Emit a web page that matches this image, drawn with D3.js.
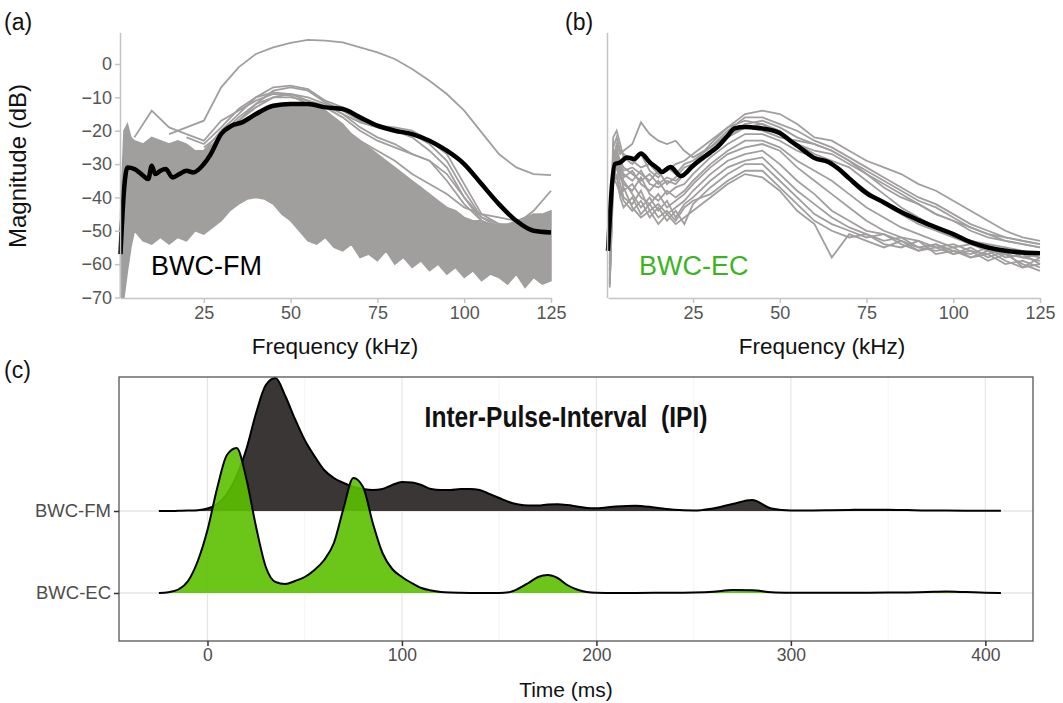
<!DOCTYPE html>
<html>
<head>
<meta charset="utf-8">
<script src="https://cdn.jsdelivr.net/npm/d3@7"></script>
<style>
body { margin: 0; background: #fff; }
text { font-family: "Liberation Sans", Arial, sans-serif; }
</style>
</head>
<body>
<svg id="fig" width="1063" height="703"></svg>
<script>
// ---- spectra, panel (a) BWC-FM ----
const freqA = [1, 2, 3, 4, 5, 7.5, 10, 12.5, 15, 17.5, 20, 22.5, 25, 27.5, 30, 32.5, 35, 37.5, 40, 42.5, 45, 47.5, 50,
  52.5, 55, 57.5, 60, 62.5, 65, 67.5, 70, 72.5, 75, 77.5, 80, 82.5, 85, 87.5, 90, 92.5, 95, 97.5, 100,
  102.5, 105, 107.5, 110, 112.5, 115, 117.5, 120, 122.5, 125];
// upper / lower edge of the dense bundle of grey spectra
const bandHighA = [-45, -20, -18, -22, -23, -24, -22, -23, -24, -23, -24, -26, -26, -24, -21, -19, -18, -16, -15, -14, -13, -12.5, -12,
  -12, -12.5, -13, -14, -16, -18, -21, -23, -25, -27, -29, -31, -33, -35, -37, -39, -41, -43, -44, -46,
  -47, -47, -48, -48, -48, -47, -46, -45, -45, -44];
const bandLowA = [-70, -70, -62, -55, -50, -53, -54, -52, -54, -52, -53, -50, -51, -49, -47, -44, -42, -40.5, -40, -40.5, -42, -45, -47,
  -50, -53, -54, -52, -55, -56, -54, -58, -57, -59, -56, -60, -58, -61, -59, -62, -60, -63, -61, -64,
  -62, -65, -63, -64, -66, -63, -67, -64, -66, -65];
// single spectra standing out of the bundle
const freqOut = [5, 10, 15, 20, 25, 30, 35, 40, 45, 50, 55, 60, 65, 70, 75, 80, 85, 90, 95, 100, 105, 110, 115, 120, 125];
const outliersA = [
  [null, null, -21, -19, -17, -7, -1, 3, 5, 6.3, 7.2, 7, 6.5, 5, 3.5, 1.5, -1.5, -5, -9, -14, -20.5, -27, -31, -33, -33.3],
  [null, null, null, null, -26, -20, -15, -10, -7, -6.5, -7.5, -11, -13, -16, -18.5, -19, -20, -23, -27, -36, -45, -48, -49, -48, -47],
  [null, null, null, null, -27, -22, -17, -12, -8, -7, -8, -11.5, -14, -17, -19, -20, -22, -26, -31, -40, -47, -49, -48, -44, -38],
  [null, null, null, -22, -24, -19, -13.5, -10, -8.5, -9, -11, -13, -16, -20, -23, -25, -27, -29, -35, -42, -47, -50, -50, -49, -48],
  [-22, -14, -19, -21, -23, -17, -14, -11, -9, -9.5, -12, -14, -19, -23, -26, -29, -33, -36, -39, -43, -45, -46, -47, -46, -45],
  [null, null, null, null, -25, -21, -16, -12, -10, -10, -11, -12.5, -15, -17.5, -19, -19.5, -21, -24, -29, -38, -46, -49, -49, -47, -45],
  [null, null, null, null, -26, -22, -17, -13, -10, -9, -10, -12, -15, -19, -22, -24, -27, -29, -33, -40, -46, -48, -49, -48, -46]
];
const meanFreqA = [1, 2, 3, 5, 7, 9, 10, 11, 12.5, 14, 16, 18, 20, 22, 25, 27, 30, 33, 36, 40, 45, 50, 55, 60, 65, 70, 75, 80, 85,
  90, 95, 100, 105, 110, 115, 120, 125];
const meanA = [-57, -38, -31, -31.5, -33, -34.5, -30.5, -33, -32, -31.5, -34, -33, -32, -32.5, -30, -27, -21, -18.5, -17.5, -15, -12.5,
  -12, -12, -13, -13.5, -16, -18.5, -20, -21, -23, -26, -30, -36, -42, -47, -50, -50.5];

// ---- spectra, panel (b) BWC-EC ----
const freqB = [1, 2, 3, 4, 5, 7.5, 10, 12.5, 15, 17.5, 20, 22.5, 25, 30, 35, 40, 45, 50, 55, 60, 65, 70, 75, 80, 85, 90, 95, 100,
  105, 110, 115, 120, 125];
const linesB = [
  [-60, -25, -22, -26, -27, -29, -31, -30, -33, -32, -30, -29, -27, -23, -19, -15, -14, -15, -18, -22, -23, -26, -29, -31, -33, -36, -38, -41, -44, -47, -50, -52, -53],
  [-62, -22, -20, -24, -28, -30, -27, -32, -34, -31, -33, -30, -29, -25, -20, -16, -16, -18, -20, -23, -25, -28, -31, -34, -37, -40, -42, -45, -48, -50, -52, -53, -54],
  [-58, -28, -24, -27, -26, -24, -17.5, -21, -23, -24, -23, -26, -28, -25, -21, -18, -17, -19, -22, -24, -26, -29, -33, -37, -40, -42, -45, -47, -49, -51, -53, -54, -55],
  [-65, -30, -26, -29, -31, -33, -35, -33, -36, -34, -35, -33, -31, -27, -22, -19, -18, -20, -24, -27, -29, -31, -35, -39, -43, -46, -49, -51, -53, -54, -55, -56, -57],
  [-55, -32, -28, -31, -34, -32, -36, -38, -35, -39, -37, -36, -33, -28, -24, -21, -21, -23, -26, -28, -30, -34, -38, -42, -45, -48, -50, -52, -54, -55, -56, -57, -58],
  [-66, -35, -30, -34, -36, -38, -34, -39, -41, -38, -40, -38, -35, -30, -26, -23, -23, -25, -29, -32, -35, -39, -43, -46, -49, -51, -53, -55, -54, -56, -57, -58, -57],
  [-64, -29, -25, -32, -38, -36, -40, -42, -39, -43, -41, -39, -36, -31, -27, -25, -24, -26, -31, -35, -39, -43, -47, -50, -52, -53, -55, -54, -56, -57, -55, -58, -59],
  [-60, -33, -31, -36, -40, -42, -38, -44, -42, -45, -43, -41, -38, -33, -29, -27, -26, -30, -35, -39, -44, -47, -50, -51, -53, -55, -54, -56, -57, -55, -58, -57, -60],
  [-66, -27, -29, -33, -35, -39, -43, -40, -44, -41, -46, -42, -40, -35, -31, -29, -28, -33, -38, -42, -46, -49, -51, -53, -52, -55, -56, -55, -58, -56, -59, -61, -58],
  [-63, -31, -34, -38, -41, -44, -41, -46, -43, -47, -44, -48, -42, -37, -33, -30, -30, -35, -40, -45, -48, -50, -52, -51, -54, -56, -55, -57, -56, -59, -57, -60, -62],
  [-67, -36, -33, -40, -43, -40, -45, -42, -46, -44, -47, -43, -41, -39, -35, -32, -32, -37, -42, -47, -50, -52, -51, -54, -55, -53, -57, -56, -58, -57, -60, -59, -61],
  [-65, -34, -36, -39, -37, -43, -46, -44, -48, -45, -48, -46, -44, -40, -36, -33, -34, -38, -44, -48, -58, -51, -53, -55, -53, -56, -54, -57, -55, -58, -56, -61, -60],
  [-59, -26, -27, -30, -32, -31, -33, -35, -32, -36, -34, -31, -30, -24, -19, -17, -18, -21, -24, -26, -27, -30, -33, -36, -39, -42, -45, -47, -50, -52, -53, -54, -55],
  [-62, -30, -27, -31, -33, -35, -32, -36, -37, -35, -36, -33, -31, -26, -21, -19, -20, -22, -23, -24, -26, -29, -32, -35, -38, -41, -43, -46, -49, -51, -52, -53, -54]
];
const meanFreqB = [0.5, 2.5, 4, 6, 8, 10, 12.5, 15, 16, 18.5, 21.5, 25, 27, 30, 32, 35, 37, 40, 42, 45, 50, 53, 56, 60, 64, 67, 70,
  75, 80, 85, 90, 95, 100, 105, 110, 115, 120, 125];
const meanB = [-56, -30, -29.5, -28, -28.5, -26.8, -29.4, -31.5, -32.4, -30.9, -33.6, -30.5, -28.8, -26.5, -24.9, -21.5, -19.3, -18.9,
  -19, -19.3, -20.7, -23, -25.2, -28.2, -29.4, -31.5, -34.3, -38.7, -41.5, -44.4, -46.8, -49, -51, -53.4, -55, -56, -56.5, -56.7];

const freqTicks = [25, 50, 75, 100, 125];
const dbTicks = [0, -10, -20, -30, -40, -50, -60, -70];

// ---- panel (c) inter-pulse-interval densities ----
const groups = ["BWC-EC", "BWC-FM"];
const ipiTime = [-25, -20, -15, -10, -5, 0, 5, 10, 15, 20, 25, 30, 35, 40, 45, 50, 55, 60, 65, 70, 75, 80, 85, 90, 95, 100,
  105, 110, 115, 120, 125, 130, 135, 140, 145, 150, 155, 160, 165, 170, 175, 180, 185, 190, 195, 200,
  210, 220, 230, 240, 250, 260, 270, 280, 290, 300, 310, 320, 330, 340, 350, 360, 370, 380, 390, 400, 408];
const ipiFM = [0, 0, 0.2, 0.4, 0.8, 2.5, 7, 17, 35, 62, 98, 126, 133, 115, 92, 71, 55, 41, 33, 28, 24, 22, 21, 22, 26, 29,
  28.5, 26, 22, 21, 21, 22, 22, 21, 17, 13, 9, 6.5, 5.5, 5.5, 6.5, 6.8, 6, 4.5, 3, 2.7,
  4.5, 5.3, 3.5, 1.2, 0.5, 2.5, 7, 11, 2.5, 0.6, 0.6, 0.8, 1.1, 1.3, 1.3, 0.9, 0.5, 0.4, 0.3, 0.3, 0.2];
const ipiEC = [0, 0.8, 3.5, 12, 32, 63, 105, 138, 145, 114, 66, 26, 11, 9, 12, 16, 23, 33, 50, 85, 115, 106, 70, 40, 24, 16,
  10, 5, 2.5, 1, 0.4, 0.2, 0.1, 0.1, 0.1, 0.1, 0.8, 4.5, 10, 16, 18, 15, 8, 3.5, 1, 0.3,
  0.1, 0.1, 0.2, 0.3, 0.5, 1.2, 3, 2.8, 0.8, 0.3, 0.2, 0.2, 0.3, 0.3, 0.4, 0.6, 1, 1.4, 0.9, 0.3, 0.1];
const timeTicks = [0, 100, 200, 300, 400];
const timeGrid = [0, 50, 100, 150, 200, 250, 300, 350, 400];

const grey = "#a19e9e";
const svg = d3.select("#fig");

function styleAxis(g, col) {
  g.select(".domain").attr("stroke", col).attr("stroke-width", 1.5);
  g.selectAll(".tick line").attr("stroke", col).attr("stroke-width", 1.5);
  g.selectAll(".tick text").attr("fill", "#555").attr("font-size", 18)
    .attr("font-family", "'Liberation Sans', Arial, sans-serif");
}

// ===== panel (a) =====
const xA = d3.scaleLinear().domain([1, 125]).range([120.5, 551]);
const yA = d3.scaleLinear().domain([-70, 9.5]).range([297.5, 32.3]);

const gA = svg.append("g");
gA.append("path")
  .datum(freqA.map((f, i) => [f, bandLowA[i], bandHighA[i]]))
  .attr("d", d3.area().x(d => xA(d[0])).y0(d => yA(d[1])).y1(d => yA(d[2])))
  .attr("fill", grey).attr("stroke", grey).attr("stroke-width", 1.5);

const lineOut = d3.line().defined(d => d[1] != null).x(d => xA(d[0])).y(d => yA(d[1]));
gA.selectAll(".outA")
  .data(outliersA)
  .enter()
  .append("path")
  .attr("d", vals => lineOut(freqOut.map((f, i) => [f, vals[i]])))
  .attr("fill", "none").attr("stroke", grey).attr("stroke-width", 1.8);

gA.append("path")
  .datum(meanFreqA.map((f, i) => [f, meanA[i]]))
  .attr("d", d3.line().x(d => xA(d[0])).y(d => yA(d[1])).curve(d3.curveMonotoneX))
  .attr("fill", "none").attr("stroke", "#000").attr("stroke-width", 4.5).attr("stroke-linejoin", "round");

gA.append("g")
  .attr("transform", "translate(120,0)")
  .call(d3.axisLeft(yA).tickValues(dbTicks).tickSize(5).tickSizeOuter(0).tickFormat(d3.format("d")))
  .call(g => styleAxis(g, "#c4c4c4"));
gA.append("g")
  .attr("transform", "translate(0,298)")
  .call(d3.axisBottom(xA).tickValues(freqTicks).tickSize(5).tickSizeOuter(0))
  .call(g => styleAxis(g, "#c4c4c4"));

gA.append("text")
  .attr("transform", "translate(26,166) rotate(-90)")
  .attr("text-anchor", "middle").attr("font-size", 24).attr("fill", "#111")
  .text("Magnitude (dB)");
gA.append("text")
  .attr("x", 335).attr("y", 354).attr("text-anchor", "middle")
  .attr("font-size", 22.5).attr("fill", "#111").text("Frequency (kHz)");
gA.append("text")
  .attr("x", 151).attr("y", 275).attr("font-size", 27).attr("fill", "#000").text("BWC-FM");

// ===== panel (b) =====
const xB = d3.scaleLinear().domain([0.5, 125]).range([608, 1040]);
const yB = d3.scaleLinear().domain([-70, 9.5]).range([297.5, 32.3]);

const gB = svg.append("g");
const lineB = d3.line().x(d => xB(d[0])).y(d => yB(d[1]));
gB.selectAll(".lineB")
  .data(linesB)
  .enter()
  .append("path")
  .attr("d", vals => lineB(freqB.map((f, i) => [f, vals[i]])))
  .attr("fill", "none").attr("stroke", grey).attr("stroke-width", 1.8);

gB.append("path")
  .datum(meanFreqB.map((f, i) => [f, meanB[i]]))
  .attr("d", d3.line().x(d => xB(d[0])).y(d => yB(d[1])).curve(d3.curveMonotoneX))
  .attr("fill", "none").attr("stroke", "#000").attr("stroke-width", 4.5).attr("stroke-linejoin", "round");

gB.append("g")
  .attr("transform", "translate(607,0)")
  .call(d3.axisLeft(yB).tickValues([]).tickSizeOuter(0))
  .call(g => styleAxis(g, "#c4c4c4"));
gB.append("g")
  .attr("transform", "translate(0,298)")
  .call(d3.axisBottom(xB).tickValues(freqTicks).tickSize(5).tickSizeOuter(0))
  .call(g => styleAxis(g, "#c4c4c4"));

gB.append("text")
  .attr("x", 822).attr("y", 354).attr("text-anchor", "middle")
  .attr("font-size", 22.5).attr("fill", "#111").text("Frequency (kHz)");
gB.append("text")
  .attr("x", 639).attr("y", 275).attr("font-size", 27).attr("fill", "#3bb51e").text("BWC-EC");

// ===== panel (c) =====
const xC = d3.scaleLinear().domain([-45.5, 424.5]).range([119, 1033]);
const yC = d3.scalePoint().domain(groups).range([593, 511]);
const hC = d3.scaleLinear().domain([0, 150]).range([0, 150]);

const gC = svg.append("g");
gC.selectAll(".vgrid")
  .data(timeGrid)
  .enter()
  .append("line")
  .attr("x1", d => xC(d)).attr("x2", d => xC(d))
  .attr("y1", 377).attr("y2", 641)
  .attr("stroke", d => d % 100 === 0 ? "#e6e6e6" : "#f2f2f2")
  .attr("stroke-width", d => d % 100 === 0 ? 1.2 : 0.8);
gC.selectAll(".hgrid")
  .data(groups)
  .enter()
  .append("line")
  .attr("x1", 119).attr("x2", 1033)
  .attr("y1", d => yC(d)).attr("y2", d => yC(d))
  .attr("stroke", "#e6e6e6").attr("stroke-width", 1.5);

function ridge(name, vals, fill, opacity) {
  const base = yC(name);
  const pts = ipiTime.map((t, i) => [t, vals[i]]);
  gC.append("path")
    .datum(pts)
    .attr("d", d3.area().x(d => xC(d[0])).y0(base).y1(d => base - hC(d[1])).curve(d3.curveMonotoneX))
    .attr("fill", fill).attr("fill-opacity", opacity);
  gC.append("path")
    .datum(pts)
    .attr("d", d3.line().x(d => xC(d[0])).y(d => base - hC(d[1])).curve(d3.curveMonotoneX))
    .attr("fill", "none").attr("stroke", "#000").attr("stroke-width", 2);
}
ridge("BWC-FM", ipiFM, "#3a3636", 1);
ridge("BWC-EC", ipiEC, "#5cbf00", 0.9);

gC.append("rect")
  .attr("x", 119).attr("y", 377).attr("width", 914).attr("height", 264)
  .attr("fill", "none").attr("stroke", "#555").attr("stroke-width", 1.3);

gC.append("g")
  .attr("transform", "translate(119,0)")
  .call(d3.axisLeft(yC).tickSize(5))
  .call(g => g.select(".domain").remove())
  .call(g => g.selectAll(".tick line").attr("stroke", "#333").attr("stroke-width", 1.5))
  .call(g => g.selectAll(".tick text").attr("fill", "#4d4d4d").attr("font-size", 18.5)
    .attr("font-family", "'Liberation Sans', Arial, sans-serif"));
gC.append("g")
  .attr("transform", "translate(0,641)")
  .call(d3.axisBottom(xC).tickValues(timeTicks).tickSize(5))
  .call(g => g.select(".domain").remove())
  .call(g => g.selectAll(".tick line").attr("stroke", "#333").attr("stroke-width", 1.5))
  .call(g => g.selectAll(".tick text").attr("fill", "#4d4d4d").attr("font-size", 17.5)
    .attr("font-family", "'Liberation Sans', Arial, sans-serif"));

gC.append("text")
  .attr("x", 566).attr("y", 697).attr("text-anchor", "middle")
  .attr("font-size", 21).attr("fill", "#111").text("Time (ms)");
gC.append("text")
  .attr("transform", "translate(566,427) scale(0.82,1)")
  .attr("text-anchor", "middle").attr("font-size", 30).attr("font-weight", "bold")
  .attr("fill", "#111").style("white-space", "pre")
  .text("Inter-Pulse-Interval  (IPI)");

// panel tags
const tags = [["(a)", 4, 30], ["(b)", 565, 30], ["(c)", 4, 378]];
svg.selectAll(".tag")
  .data(tags)
  .enter()
  .append("text")
  .attr("x", d => d[1]).attr("y", d => d[2])
  .attr("font-size", 23).attr("fill", "#111")
  .attr("font-family", "Lato, 'Liberation Sans', sans-serif")
  .text(d => d[0]);
</script>
</body>
</html>
